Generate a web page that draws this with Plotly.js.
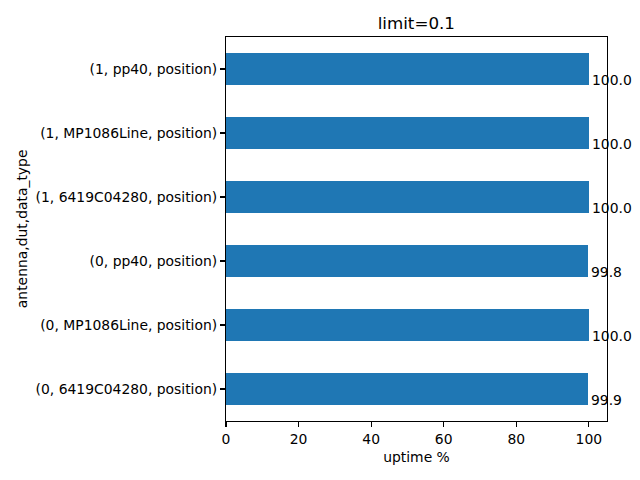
<!DOCTYPE html>
<html>
<head>
<meta charset="utf-8">
<script src="https://cdn.plot.ly/plotly-3.0.1.min.js"></script>
<style>html,body{margin:0;padding:0;background:#fff;}#chart{width:640px;height:480px;}</style>
</head>
<body>
<div id="chart"></div>
<script>
const categories = [
  "(0, 6419C04280, position)",
  "(0, MP1086Line, position)",
  "(0, pp40, position)",
  "(1, 6419C04280, position)",
  "(1, MP1086Line, position)",
  "(1, pp40, position)"
];
const uptime = [99.9, 100.0, 99.8, 100.0, 100.0, 100.0];
const xTicks = [0, 20, 40, 60, 80, 100];

const font = "DejaVu Sans, sans-serif";
const idx = categories.map((c, i) => i);

const trace = {
  type: "bar",
  orientation: "h",
  x: uptime,
  y: idx,
  width: 0.5,
  marker: {color: "#1f77b4", line: {width: 0}},
  hoverinfo: "none"
};

const annotations = uptime.map((v, i) => ({
  x: v, y: i, xref: "x", yref: "y",
  text: v.toFixed(1),
  showarrow: false,
  xanchor: "left", yanchor: "top",
  xshift: 1, yshift: -1,
  font: {family: font, size: 13.9, color: "#000"}
}));
annotations.push({
  x: -0.535, y: 0.5, xref: "paper", yref: "paper",
  text: "antenna,dut,data_type",
  textangle: -90, showarrow: false,
  xanchor: "center", yanchor: "middle",
  font: {family: font, size: 13.9, color: "#000"}
});

const layout = {
  width: 640, height: 480,
  margin: {l: 226, r: 33, t: 37, b: 59, pad: 0},
  paper_bgcolor: "#fff", plot_bgcolor: "#fff",
  showlegend: false,
  title: {text: "limit=0.1", x: 0.6505, xanchor: "center", y: 0.952, yanchor: "middle",
          font: {family: font, size: 16.7, color: "#000"}},
  xaxis: {
    range: [0, 105], tickvals: xTicks, ticktext: xTicks.map(String),
    ticks: "outside", ticklen: 4.9, tickwidth: 1.1, tickcolor: "#000",
    showline: true, linecolor: "#000", linewidth: 1.1, mirror: true,
    showgrid: false, zeroline: false,
    tickfont: {family: font, size: 13.9, color: "#000"},
    title: {text: "uptime %", font: {family: font, size: 13.9, color: "#000"}, standoff: 6}
  },
  yaxis: {
    range: [-0.5, 5.5], tickvals: idx, ticktext: categories,
    ticks: "outside", ticklen: 4.9, tickwidth: 1.1, tickcolor: "#000",
    showline: true, linecolor: "#000", linewidth: 1.1, mirror: true,
    showgrid: false, zeroline: false,
    tickfont: {family: font, size: 13.9, color: "#000"}
  },
  annotations: annotations,
  bargap: 0
};

Plotly.newPlot("chart", [trace], layout, {displayModeBar: false, staticPlot: true});
</script>
</body>
</html>
